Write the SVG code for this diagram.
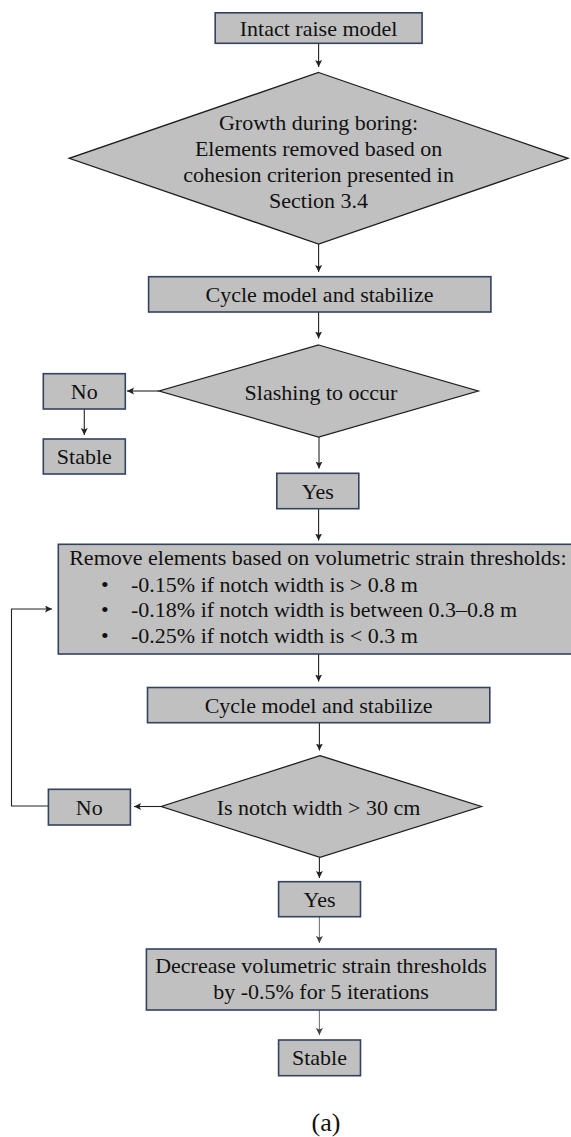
<svg xmlns="http://www.w3.org/2000/svg" width="571" height="1137" viewBox="0 0 571 1137">
<style>
.box{fill:#c0c0c0;stroke:#33425f;stroke-width:1.6}
.dia{fill:#c0c0c0;stroke:#1e1e1e;stroke-width:1.3}
.t{font-family:"Liberation Serif","Times New Roman",serif;font-size:22px;fill:#111;text-anchor:middle}
.tl{font-family:"Liberation Serif","Times New Roman",serif;font-size:22px;fill:#111}
.c{fill:none;stroke:#222;stroke-width:1.1}
.cg{fill:none;stroke:#777;stroke-width:1.1}
</style>
<defs>
<marker id="ah" markerUnits="userSpaceOnUse" markerWidth="8" markerHeight="8" refX="7" refY="3.5" orient="auto">
<path d="M0,0 L7,3.5 L0,7 L1.5,3.5 z" fill="#222"/>
</marker>
<marker id="ahg" markerUnits="userSpaceOnUse" markerWidth="8" markerHeight="8" refX="7" refY="3.5" orient="auto">
<path d="M0,0 L7,3.5 L0,7 L1.5,3.5 z" fill="#444"/>
</marker>
</defs>
<rect width="571" height="1137" fill="#fff"/>
<g id="connectors">
<path class="c" d="M318.6,43.3 V67" marker-end="url(#ah)"/>
<path class="c" d="M318.6,244 V272" marker-end="url(#ah)"/>
<path class="c" d="M318.6,312 V338.5" marker-end="url(#ah)"/>
<path class="c" d="M159,391 H127" marker-end="url(#ah)"/>
<path class="c" d="M84.3,409 V435" marker-end="url(#ah)"/>
<path class="c" d="M319,437 V468.5" marker-end="url(#ah)"/>
<path class="c" d="M318.6,508.7 V540.5" marker-end="url(#ah)"/>
<path class="c" d="M318.6,654 V681.5" marker-end="url(#ah)"/>
<path class="c" d="M319.4,722.7 V750.5" marker-end="url(#ah)"/>
<path class="c" d="M161.3,806.5 H134" marker-end="url(#ah)"/>
<path class="c" d="M48.4,806 H11.5 V609 H52" marker-end="url(#ah)"/>
<path class="c" d="M319.4,857.3 V878" marker-end="url(#ah)"/>
<path class="cg" d="M319.4,916.7 V943" marker-end="url(#ahg)"/>
<path class="cg" d="M319.4,1010 V1035" marker-end="url(#ahg)"/>
</g>
<g id="intact">
<rect class="box" x="215.2" y="12.8" width="206.9" height="30.5"/>
<text class="t" x="318.6" y="35.5">Intact raise model</text>
</g>
<g id="growth">
<polygon class="dia" points="318.6,72.5 568,158.3 318.6,244 69.2,158.3"/>
<text class="t" x="318.6" y="130">Growth during boring:</text>
<text class="t" x="318.6" y="156">Elements removed based on</text>
<text class="t" x="318.6" y="182.3">cohesion criterion presented in</text>
<text class="t" x="318.6" y="208.3">Section 3.4</text>
</g>
<g id="cycle1">
<rect class="box" x="148.6" y="276.7" width="342.3" height="35.3"/>
<text class="t" x="319.5" y="302">Cycle model and stabilize</text>
</g>
<g id="slashing">
<polygon class="dia" points="318.6,345 478.2,391 318.6,437 159.1,391"/>
<text class="t" x="321" y="399.5">Slashing to occur</text>
</g>
<g id="no1">
<rect class="box" x="43.3" y="373.7" width="82" height="35.3"/>
<text class="t" x="84.3" y="399">No</text>
</g>
<g id="stable1">
<rect class="box" x="43.3" y="439" width="82" height="35"/>
<text class="t" x="84.3" y="464">Stable</text>
</g>
<g id="yes1">
<rect class="box" x="276.8" y="473.3" width="82" height="35.4"/>
<text class="t" x="317.8" y="498.8">Yes</text>
</g>
<g id="remove">
<rect class="box" x="58.3" y="544.3" width="520" height="109.7"/>
<text class="tl" x="69.2" y="565">Remove elements based on volumetric strain thresholds:</text>
<text class="tl" x="101" y="591.7">•</text>
<text class="tl" x="131" y="591.7">-0.15% if notch width is &gt; 0.8 m</text>
<text class="tl" x="101" y="617.3">•</text>
<text class="tl" x="131" y="617.3">-0.18% if notch width is between 0.3–0.8 m</text>
<text class="tl" x="101" y="643.3">•</text>
<text class="tl" x="131" y="643.3">-0.25% if notch width is &lt; 0.3 m</text>
</g>
<g id="cycle2">
<rect class="box" x="147.5" y="687.5" width="342.3" height="35.2"/>
<text class="t" x="318.6" y="712.7">Cycle model and stabilize</text>
</g>
<g id="notch">
<polygon class="dia" points="320,755.7 481.4,806.5 320,857.3 161.3,806.5"/>
<text class="t" x="318.5" y="814.5">Is notch width &gt; 30 cm</text>
</g>
<g id="no2">
<rect class="box" x="48.4" y="789.3" width="82" height="35.7"/>
<text class="t" x="89.2" y="815">No</text>
</g>
<g id="yes2">
<rect class="box" x="278.6" y="881.7" width="81.9" height="35"/>
<text class="t" x="319.5" y="906.7">Yes</text>
</g>
<g id="decrease">
<rect class="box" x="146.4" y="949" width="349.6" height="61"/>
<text class="t" x="321" y="973.3">Decrease volumetric strain thresholds</text>
<text class="t" x="321" y="999">by -0.5% for 5 iterations</text>
</g>
<g id="stable2">
<rect class="box" x="278.6" y="1040" width="81.9" height="35.7"/>
<text class="t" x="319.5" y="1065">Stable</text>
</g>
<text class="t" x="326" y="1131" style="font-size:26px">(a)</text>
</svg>
